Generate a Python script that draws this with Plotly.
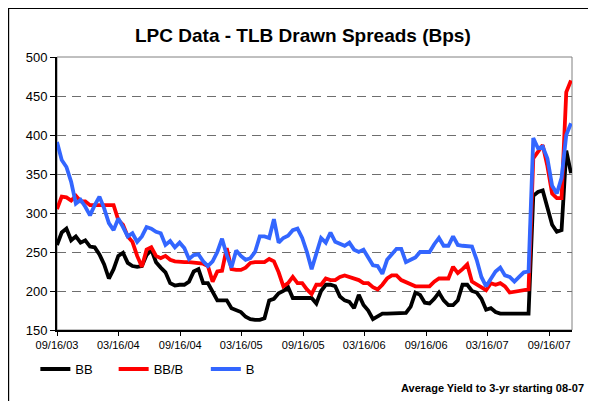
import pandas as pd
import plotly.graph_objects as go

start_date = "2003-09-16"
n_points = 110
dates = pd.date_range(start_date, periods=n_points, freq="14D")

bb = [259, 275, 280, 265, 270, 262, 265, 257, 256, 247,
      234, 216, 228, 245, 249, 236, 232, 231, 232, 246,
      253, 237, 230, 224, 210, 207, 208, 208, 212, 225,
      228, 210, 210, 198, 188, 188, 188, 178, 175, 173,
      167, 164, 163, 163, 165, 188, 190, 197, 200, 205,
      191, 191, 191, 191, 191, 184, 200, 208, 208, 206,
      193, 188, 186, 178, 195, 182, 175, 164, 168, 171,
      171, 171, 171, 171, 172, 180, 198, 195, 185, 184,
      190, 198, 188, 182, 182, 188, 208, 208, 200, 198,
      190, 176, 178, 173, 171, 171, 171, 171, 171, 171,
      171, 322, 327, 329, 305, 285, 276, 278, 380, 351]

bbb = [305, 321, 320, 316, 322, 315, 315, 310, 310, 310,
       310, 310, 310, 291, 285, 270, 263, 245, 231, 253,
       256, 245, 242, 245, 240, 238, 237, 237, 237, 236,
       236, 235, 232, 212, 225, 226, 255, 228, 227, 227,
       230, 236, 237, 237, 237, 241, 238, 224, 206, 210,
       218, 210, 210, 202, 196, 208, 208, 216, 214, 214,
       218, 220, 218, 216, 214, 210, 210, 205, 202, 208,
       216, 220, 220, 214, 211, 209, 206, 206, 206, 206,
       212, 216, 216, 216, 231, 223, 228, 234, 212, 208,
       204, 201, 210, 208, 210, 206, 198, 199, 200, 200,
       202, 370, 379, 387, 360, 325, 319, 319, 455, 470]

b = [391, 368, 359, 340, 312, 317, 308, 297, 310, 321,
     306, 287, 278, 293, 282, 270, 274, 263, 270, 282,
     280, 276, 274, 259, 264, 256, 262, 255, 241, 246,
     247, 238, 232, 238, 250, 267, 246, 230, 252, 245,
     240, 242, 250, 270, 270, 268, 292, 262, 268, 271,
     278, 280, 268, 250, 228, 250, 268, 262, 275, 263,
     261, 258, 262, 253, 250, 253, 243, 233, 232, 222,
     240, 247, 254, 254, 237, 240, 243, 250, 250, 250,
     260, 268, 258, 258, 270, 259, 258, 258, 257, 240,
     218, 206, 215, 225, 230, 220, 218, 212, 218, 224,
     225, 396, 383, 385, 370, 335, 325, 345, 400, 415]

series_names = ["BB", "BB/B", "B"]
series_colors = ["#000000", "#FF0000", "#3366FF"]

tick_dates = ["2003-09-16", "2004-03-16", "2004-09-16", "2005-03-16", "2005-09-16",
              "2006-03-16", "2006-09-16", "2007-03-16", "2007-09-16"]
tick_labels = ["09/16/03", "03/16/04", "09/16/04", "03/16/05", "09/16/05",
               "03/16/06", "09/16/06", "03/16/07", "09/16/07"]
x_range = ["2003-09-16", "2007-11-23"]
y_range = [150, 500]

title_text = "LPC Data - TLB Drawn Spreads (Bps)"
note_text = "Average Yield to 3-yr starting 08-07"

FONT = "Liberation Sans, Arial, sans-serif"

fig = go.Figure()
legend_ids = ["legend", "legend2", "legend3"]
for name, vals, col, lg in zip(series_names, [bb, bbb, b], series_colors, legend_ids):
    fig.add_trace(go.Scatter(x=dates, y=vals, mode="lines", name=name,
                             line=dict(color=col, width=3.8), legend=lg,
                             hoverinfo="skip"))

legend_common = dict(orientation="h", xanchor="left", yanchor="middle",
                     bgcolor="rgba(0,0,0,0)", borderwidth=0,
                     font=dict(family=FONT, size=13, color="#000000"))
# the page body adds an 8px margin; the figure is sized to fit inside the window
fig.update_layout(
    width=580, height=393,
    margin=dict(l=49, r=16, t=49, b=71),
    paper_bgcolor="white", plot_bgcolor="white",
    font=dict(family=FONT, color="#000000"),
    showlegend=True,
    legend=dict(x=-0.042, y=-0.143, **legend_common),
    legend2=dict(x=0.110, y=-0.143, **legend_common),
    legend3=dict(x=0.289, y=-0.143, **legend_common),
    xaxis=dict(type="date", range=x_range, tickvals=tick_dates, ticktext=tick_labels,
               tickfont=dict(size=11, family=FONT), ticks="outside", ticklen=4,
               tickcolor="#000000", showgrid=False, showline=True, linecolor="#000000",
               linewidth=1.5, zeroline=False),
    yaxis=dict(range=y_range, dtick=50, tick0=150, tickfont=dict(size=13, family=FONT),
               ticks="outside", ticklen=5, tickcolor="#000000", showgrid=True,
               gridcolor="#6e6e6e", gridwidth=1, griddash="9px,6px",
               showline=True, linecolor="#000000", linewidth=2, zeroline=False),
    shapes=[
        dict(type="rect", xref="paper", yref="paper", x0=0, x1=1, y0=0, y1=1,
             line=dict(color="#808080", width=1), layer="below"),
        dict(type="rect", xref="paper", yref="paper", x0=-0.094, x1=1.2, y0=-0.4, y1=1.178,
             line=dict(color="#000000", width=1.2)),
    ],
    annotations=[
        dict(text="<b>" + title_text + "</b>", xref="paper", yref="paper",
             x=0.477, y=1.08, xanchor="center", yanchor="middle", showarrow=False,
             font=dict(size=19, family=FONT, color="#000000")),
        dict(text="<b>" + note_text + "</b>", xref="paper", yref="paper",
             x=1.027, y=-0.212, xanchor="right", yanchor="middle", showarrow=False,
             font=dict(size=11, family=FONT, color="#000000")),
    ],
)

fig.write_html("out.html", config={"displayModeBar": False})
